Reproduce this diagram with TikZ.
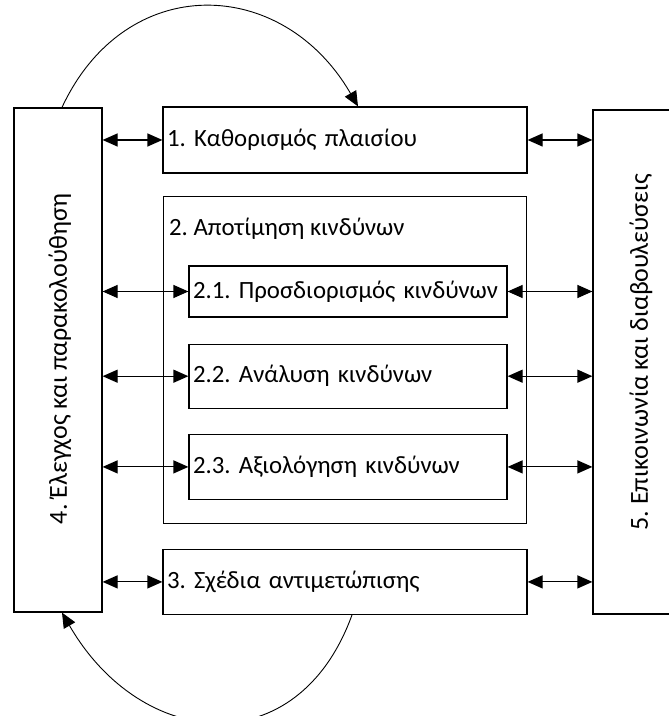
\documentclass[tikz,border=0pt]{standalone}
\usepackage{fontspec}
\setmainfont{Carlito}
\usepackage{tikz}
\usetikzlibrary{arrows.meta, positioning}
\frenchspacing

\begin{document}
\begin{tikzpicture}[x=1pt, y=1pt, node distance=25pt,
    >={Triangle[length=15pt,width=13pt]},
    box/.style={draw, rectangle, line width=1.2pt, inner xsep=4pt, inner ysep=0pt, align=left},
    side/.style={draw, rectangle, line width=1.2pt, minimum width=88pt, minimum height=504pt},
    sidetext/.style={rotate=90, font=\fontsize{26}{30}\selectfont},
    link/.style={<->, line width=1.2pt},
    loop/.style={->, line width=0.9pt},
    font=\fontsize{24.8}{29}\selectfont]
    \clip (0,0) rectangle (669,716);

    \node[side] (ctrl) at (58,356) {};
    \node[sidetext] (ctrltxt) at ([xshift=2pt,yshift=1pt]ctrl.center) {4. Έλεγχος και παρακολούθηση};
    \node[side] (comm) at (637,354) {};
    \node[sidetext] (commtxt) at ([xshift=4pt,yshift=10pt]comm.center) {5. Επικοινωνία και διαβουλεύσεις};

    \node[box, text width=356pt, minimum height=66pt] (ctx) at (345,576) {1. Καθορισμός πλαισίου};
    \node[box, text width=355pt, minimum height=327pt, below=22pt of ctx] (assess) {};
    \node[anchor=west, inner sep=0pt] (asslbl) at ([xshift=6pt,yshift=-33pt]assess.north west) {2. Αποτίμηση κινδύνων};
    \node[box, text width=310pt, minimum height=51pt] (ident) at (348,424.5) {2.1. Προσδιορισμός κινδύνων};
    \node[box, text width=310pt, minimum height=64pt, below=26pt of ident] (anal) {2.2. Ανάλυση κινδύνων};
    \node[box, text width=310pt, minimum height=65pt, below=25pt of anal] (evalr) {2.3. Αξιολόγηση κινδύνων};
    \node[box, text width=356pt, minimum height=65pt, below=25pt of assess] (treat) {3. Σχέδια αντιμετώπισης};

    % links to control and communication
    \foreach \n in {ctx, ident, anal, evalr, treat} {
        \draw[link] (ctrl.east |- \n.west) -- (\n.west);
        \draw[link] (\n.east) -- (comm.west |- \n.east);
    }

    % feedback loops
    \draw[loop] ([xshift=4pt]ctrl.north) to[out=65, in=120, looseness=1.3] ([xshift=13pt]ctx.north);
    \draw[loop] ([xshift=7pt]treat.south) to[out=-110, in=-60, looseness=1.4] ([xshift=4pt]ctrl.south);
\end{tikzpicture}
\end{document}
